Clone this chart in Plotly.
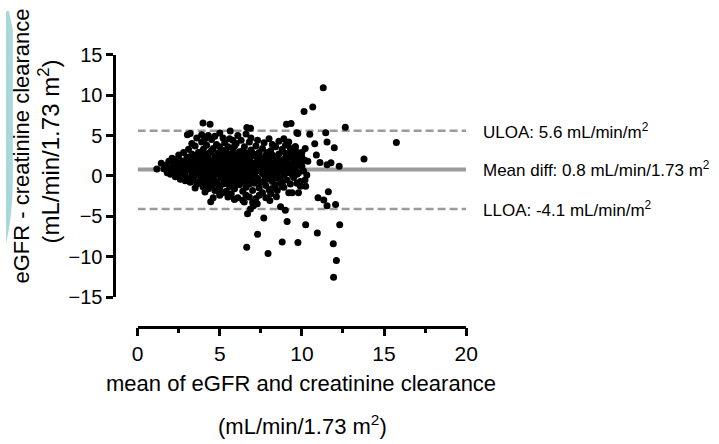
import plotly.graph_objects as go

W, H = 719, 444

# Bland-Altman agreement limits (mL/min/1.73 m2)
mean_diff = 0.8
uloa = 5.6
lloa = -4.1
x_span = [0, 20]
x_ticks = [0, 5, 10, 15, 20]
y_ticks = [-15, -10, -5, 0, 5, 10, 15]

# dense central cloud: (mean, difference)
core_pts = [
    (1.6, 0.9), (1.7, 1.3), (1.8, 0.4), (1.9, 1.8), (2.0, 0.2), (2.0, 1.0), (2.1, 2.2), (2.1, 0.6),
    (2.2, 1.5), (2.3, -0.1), (2.3, 0.9), (2.4, 2.0), (2.4, 0.3), (2.5, 1.3), (2.5, 2.6), (2.6, -0.4),
    (2.6, 0.7), (2.7, 1.8), (2.7, 0.1), (2.8, 1.1), (2.8, 2.9), (2.9, -0.6), (2.9, 0.5), (3.0, 1.6),
    (3.0, 2.3), (3.0, -0.2), (3.1, 0.9), (3.1, 3.3), (3.2, -0.8), (3.2, 1.9), (3.3, 0.3), (3.3, 2.7),
    (3.4, 1.3), (3.4, -0.4), (3.5, 0.7), (3.5, 2.2), (3.5, 3.7), (3.6, -1.0), (3.6, 1.6), (3.7, 0.1),
    (3.7, 2.9), (3.8, 1.0), (3.8, -0.6), (3.8, 2.3), (3.9, 0.5), (3.9, 1.8), (3.9, 4.2), (4.0, -1.3),
    (4.0, 3.3), (4.0, 1.2), (4.0, -0.2), (4.1, 2.6), (4.1, 0.7), (4.2, -0.9), (4.2, 1.6), (4.2, 3.8),
    (4.3, 0.1), (4.3, 2.1), (4.3, -1.6), (4.4, 1.0), (4.4, 2.9), (4.4, -0.5), (4.5, 1.9), (4.5, 0.4),
    (4.5, 4.5), (4.5, -1.2), (4.6, 3.4), (4.6, 1.3), (4.6, -0.1), (4.7, 2.4), (4.7, 0.8), (4.7, -1.8),
    (4.8, 1.7), (4.8, -0.7), (4.8, 3.9), (4.9, 0.2), (4.9, 2.8), (4.9, 1.1), (5.0, -1.4), (5.0, 2.0),
    (5.0, 0.6), (5.0, -2.4), (5.1, 3.2), (5.1, 1.5), (5.1, -0.3), (5.2, 0.9), (5.2, 2.5), (5.2, -1.0),
    (5.3, 1.8), (5.3, 0.1), (5.3, 4.1), (5.4, -1.9), (5.4, 1.2), (5.4, 2.9), (5.4, -0.6), (5.5, 0.5),
    (5.5, 2.2), (5.5, 3.6), (5.6, -1.3), (5.6, 1.6), (5.6, -0.2), (5.6, 4.6), (5.7, 0.9), (5.7, 2.7),
    (5.7, -2.2), (5.8, 1.3), (5.8, -0.8), (5.8, 3.3), (5.9, 0.2), (5.9, 2.0), (5.9, -1.6), (6.0, 1.0),
    (6.0, 2.6), (6.0, -0.4), (6.0, 4.0), (6.1, -2.7), (6.1, 1.7), (6.1, 0.4), (6.2, -1.1), (6.2, 3.0),
    (6.2, 2.2), (6.3, 0.8), (6.3, -0.1), (6.3, 1.4), (6.4, -1.9), (6.4, 2.5), (6.4, 0.3), (6.5, 3.6),
    (6.5, 1.1), (6.5, -0.7), (6.6, 1.9), (6.6, -1.4), (6.6, 0.6), (6.6, -2.4), (6.7, 2.8), (6.7, 0.0),
    (6.7, 1.4), (6.8, -1.0), (6.8, 2.2), (6.8, 4.2), (6.9, 0.8), (6.9, -0.4), (6.9, 3.2), (7.0, 1.6),
    (7.0, -1.8), (7.0, 0.2), (7.1, 2.5), (7.1, -0.9), (7.1, 1.1), (7.2, 3.7), (7.2, -2.8), (7.2, 0.5),
    (7.3, 1.9), (7.3, -0.3), (7.4, 1.2), (7.4, -1.5), (7.4, 2.9), (7.5, 0.6), (7.5, 2.2), (7.5, -0.8),
    (7.6, 1.5), (7.6, -2.1), (7.6, 3.4), (7.7, 0.1), (7.7, 1.0), (7.8, 2.6), (7.8, -1.2), (7.8, 0.5),
    (7.9, 1.7), (7.9, -0.4), (8.0, 2.1), (8.0, 0.9), (8.0, -1.7), (8.1, 3.1), (8.1, 0.2), (8.2, 1.4),
    (8.2, -0.7), (8.3, 2.4), (8.3, 0.7), (8.4, -1.1), (8.4, 1.8), (8.4, 3.6), (8.5, 0.3), (8.5, 1.2),
    (8.6, -0.3), (8.6, 2.7), (8.7, 1.5), (8.7, 0.6), (8.8, 3.3), (8.8, -0.9), (8.9, 2.0), (8.9, 0.1),
    (9.0, 1.1), (9.0, 2.8), (9.0, 3.8), (9.1, -0.5), (9.1, 1.7), (9.2, 0.7), (9.2, 2.3), (9.3, 3.4),
    (9.3, 1.3), (9.4, 0.2), (9.4, 2.6), (9.5, 1.8), (9.5, -0.2), (9.6, 0.9), (9.6, 3.0), (9.7, 1.4),
    (9.8, 0.4), (9.8, 2.2), (9.9, -0.7), (10.0, 1.2), (10.1, 0.6), (10.2, 1.9), (10.3, 0.1),
]

# further points packed into the heart of the cloud
core_fill_pts = [
    (2.2, 0.4), (2.4, 1.1), (2.6, 1.9), (2.8, 0.2), (3.0, 0.8), (3.2, 1.2), (3.3, -0.2), (3.4, 2.0),
    (3.6, 0.6), (3.6, 2.5), (3.7, 1.3), (3.9, -0.2), (3.9, 3.0), (4.1, 1.8), (4.1, -0.6), (4.2, 0.4),
    (4.3, 2.7), (4.4, 1.5), (4.5, -0.4), (4.5, 3.1), (4.6, 0.9), (4.7, 1.9), (4.8, 0.2), (4.8, 2.5),
    (4.9, -1.1), (5.0, 1.3), (5.0, 3.6), (5.1, 0.3), (5.2, 1.7), (5.3, -0.5), (5.3, 3.1), (5.4, 0.7),
    (5.5, 1.9), (5.5, -1.0), (5.6, 0.9), (5.7, 2.1), (5.7, -0.3), (5.8, 0.5), (5.9, 1.5), (5.9, 3.7),
    (6.0, -1.1), (6.1, 2.4), (6.1, 0.9), (6.2, -0.5), (6.3, 2.0), (6.4, 1.1), (6.4, 3.1), (6.5, -0.1),
    (6.6, 1.3), (6.7, 2.3), (6.7, -0.6), (6.8, 0.7), (6.9, 1.7), (7.0, 2.8), (7.0, -0.7), (7.1, 0.3),
    (7.2, 1.6), (7.3, 0.8), (7.3, 2.7), (7.4, -0.7), (7.5, 1.4), (7.6, 0.3), (7.7, 2.2), (7.7, -0.6),
    (7.8, 1.2), (7.9, 2.9), (8.0, 0.1), (8.1, 1.6), (8.2, 2.6), (8.3, -0.3), (8.4, 0.9), (8.5, 2.2),
    (8.6, 1.1), (8.7, -0.5), (8.8, 1.9), (8.9, 0.9), (9.0, 2.2), (9.1, 0.4), (9.2, 1.5), (9.3, 2.7),
    (9.4, 1.1), (9.5, 2.3), (9.6, 1.6), (9.7, 0.2), (9.9, 1.6), (10.0, 2.3),
]

# sparser points above the cloud
upper_pts = [
    (3.3, 4.0), (3.6, 4.7), (3.9, 5.1), (4.1, 4.6), (4.3, 5.0), (4.7, 4.9), (5.0, 5.3), (5.2, 4.7),
    (5.8, 4.4), (6.1, 5.0), (6.3, 4.4), (6.6, 5.2), (6.9, 4.7), (7.3, 4.4), (7.7, 4.1), (8.0, 4.6),
    (8.2, 3.9), (8.6, 4.3), (8.9, 4.6), (9.2, 4.2), (9.6, 3.6), (10.0, 2.9), (10.2, 3.4),
]

# sparser points below the cloud
lower_pts = [
    (3.5, -1.5), (4.1, -2.0), (4.6, -2.7), (5.2, -2.1), (5.5, -2.6), (5.9, -2.9), (6.4, -3.0),
    (6.8, -2.6), (7.0, -3.3), (7.4, -2.4), (7.8, -2.7), (8.1, -2.2), (8.5, -1.8), (8.9, -1.4),
    (9.3, -1.0), (9.7, -0.9),
]

# isolated points
outlier_pts = [
    (11.3, 10.9), (10.13, 7.97), (10.66, 8.52), (12.64, 6.03), (15.75, 4.15), (13.78, 2.08),
    (3.98, 6.56), (4.41, 6.4), (9.06, 6.4), (9.34, 6.5), (6.65, 6.0), (6.87, 5.9), (5.64, 5.55),
    (11.45, 5.35), (10.48, 5.16), (3.2, 5.24), (3.03, 5.08), (9.75, 5.24), (9.69, 5.35),
    (11.53, 4.2), (10.78, 3.98), (11.97, 3.48), (10.88, 2.6), (9.85, 2.81), (9.6, 3.6),
    (9.73, 2.9), (9.89, 2.03), (10.36, 1.8), (11.1, 1.66), (11.53, 1.37), (11.77, 1.64),
    (12.27, 1.19), (1.44, 1.56), (1.17, 0.86),
    (10.19, -0.51), (10.23, -1.29), (9.91, -1.29), (9.79, -2.07), (10.98, -2.7), (11.33, -2.97),
    (11.61, -1.95), (11.53, -3.71), (12.05, -3.55), (10.23, -6.06), (12.3, -6.06), (10.94, -7.07),
    (9.76, -8.25), (11.91, -8.4), (12.1, -10.47), (11.93, -12.54), (8.8, -8.17), (9.1, -5.63),
    (8.7, -3.83), (8.99, -4.26), (7.3, -7.22), (7.94, -9.6), (6.64, -8.83), (7.68, -5.2),
    (6.69, -4.69), (6.87, -4.1), (7.06, -3.71), (7.28, -3.44), (6.49, -3.24), (8.05, -3.05),
    (8.45, -2.58), (9.2, -2.1), (9.4, -2.1), (8.82, -1.33), (8.19, -1.56), (5.89, -2.9),
    (4.45, -3.2), (5.0, -2.19), (3.98, -1.33),
]

all_pts = core_pts + core_fill_pts + upper_pts + lower_pts + outlier_pts
mean_vals = [p[0] for p in all_pts]
diff_vals = [p[1] for p in all_pts]

LINE_GREY = "#9b9b9b"
FONT = "Liberation Sans, Arial, sans-serif"


def px_x(p):
    return p / W


def px_y(p):
    return 1 - p / H


fig = go.Figure()

# limits of agreement and mean difference
for level, dash, width in [(uloa, "8px,4px", 2.5), (lloa, "8px,4px", 2.5), (mean_diff, "solid", 4)]:
    fig.add_trace(go.Scatter(
        x=x_span, y=[level, level], mode="lines",
        line=dict(color=LINE_GREY, width=width, dash=dash),
        hoverinfo="skip", showlegend=False,
    ))

fig.add_trace(go.Scatter(
    x=mean_vals, y=diff_vals, mode="markers",
    marker=dict(color="black", size=7, line=dict(width=0)),
    showlegend=False,
))

label_font = dict(family=FONT, size=17, color="black")
label_x = px_x(487)
annotations = [
    dict(x=label_x, y=uloa, xref="paper", yref="y", xanchor="left", yanchor="middle",
         text=f"ULOA: {uloa} mL/min/m<sup>2</sup>", showarrow=False, font=label_font),
    dict(x=label_x, y=mean_diff, xref="paper", yref="y", xanchor="left", yanchor="middle",
         text=f"Mean diff: {mean_diff} mL/min/1.73 m<sup>2</sup>", showarrow=False, font=label_font),
    dict(x=label_x, y=lloa, xref="paper", yref="y", xanchor="left", yanchor="middle",
         text=f"LLOA: {lloa} mL/min/m<sup>2</sup>", showarrow=False, font=label_font),
    # x-axis title (two lines)
    dict(x=px_x(303), y=px_y(392), xref="paper", yref="paper", xanchor="center", yanchor="middle",
         text="mean of eGFR and creatinine clearance", showarrow=False,
         font=dict(family=FONT, size=22, color="black")),
    dict(x=px_x(304), y=px_y(436), xref="paper", yref="paper", xanchor="center", yanchor="middle",
         text="(mL/min/1.73 m<sup>2</sup>)", showarrow=False,
         font=dict(family=FONT, size=22, color="black")),
    # y-axis title (two lines)
    dict(x=px_x(16), y=px_y(142), xref="paper", yref="paper", xanchor="center", yanchor="middle",
         text="eGFR - creatinine clearance", textangle=-90, showarrow=False,
         font=dict(family=FONT, size=22, color="black")),
    dict(x=px_x(44), y=px_y(148), xref="paper", yref="paper", xanchor="center", yanchor="middle",
         text="(mL/min/1.73 m<sup>2</sup>)", textangle=-90, showarrow=False,
         font=dict(family=FONT, size=24, color="black")),
]

# teal tab at the left edge
tab = (
    f"M 0,{px_y(0)} L {px_x(3)},{px_y(0)} L {px_x(7)},{px_y(20)} "
    f"L {px_x(7)},{px_y(175)} Q {px_x(7)},{px_y(215)} 0,{px_y(245)} Z"
)

fig.update_layout(
    width=W, height=H, autosize=False,
    margin=dict(l=0, r=0, t=0, b=0),
    paper_bgcolor="white", plot_bgcolor="white",
    annotations=annotations,
    shapes=[dict(type="path", path=tab, xref="paper", yref="paper",
                 fillcolor="#a8d8d7", line=dict(width=0), layer="below")],
    xaxis=dict(
        domain=[px_x(135), px_x(472)], range=x_span, anchor="free", position=px_y(332),
        tickmode="array", tickvals=x_ticks, ticks="outside", ticklen=8, tickwidth=2.5,
        tickcolor="black", showline=True, linewidth=2.5, linecolor="black",
        showgrid=False, zeroline=False,
        minor=dict(dtick=2.5, ticks="outside", ticklen=5, tickwidth=2.5, tickcolor="black", showgrid=False),
        tickfont=dict(family=FONT, size=21, color="black"),
    ),
    yaxis=dict(
        domain=[px_y(301), px_y(46)], range=[-15, 15], anchor="free", position=px_x(111),
        tickmode="array", tickvals=y_ticks, ticks="outside", ticklen=7, tickwidth=2.5,
        tickcolor="black", showline=True, linewidth=2.5, linecolor="black",
        showgrid=False, zeroline=False,
        tickfont=dict(family=FONT, size=20, color="black"),
    ),
)

fig.write_html("out.html")
